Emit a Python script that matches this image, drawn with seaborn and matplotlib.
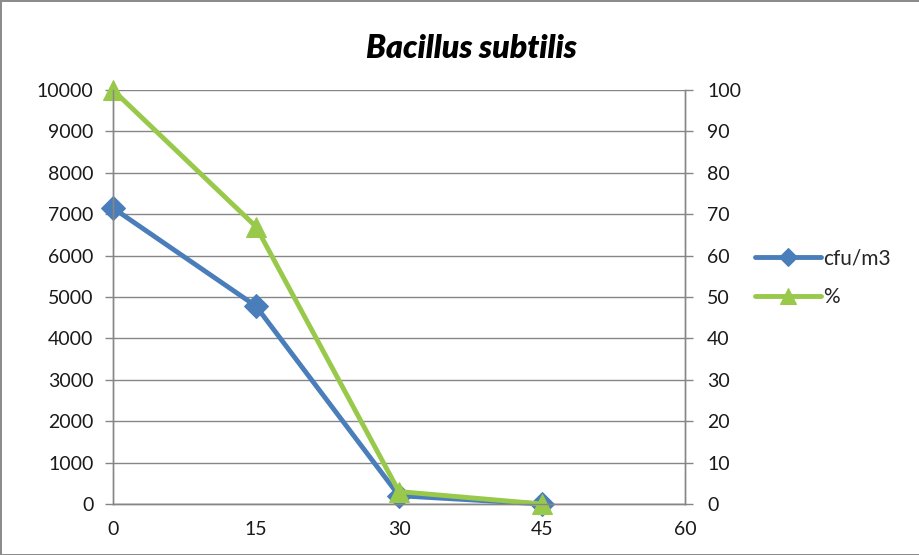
import numpy as np
import matplotlib
matplotlib.use("Agg")
import matplotlib.pyplot as plt
import seaborn as sns

# Data
minutes = [0, 15, 30, 45]
cfu_m3 = [7150, 4780, 200, 0]
percent = [100, 67, 3, 0]

x_ticks = [0, 15, 30, 45, 60]
left_ticks = np.arange(0, 10001, 1000)
right_ticks = np.arange(0, 101, 10)

sns.set_style("white")
plt.rcParams['font.family'] = ['Lato', 'DejaVu Sans']

blue = '#4A7EBB'
green = '#98C94B'
grey = '#868686'

fig = plt.figure(figsize=(9.2, 5.55), dpi=100)
fig.patch.set_edgecolor('#8c8c8c')
fig.patch.set_linewidth(2)
ax = fig.add_axes([0.1228, 0.0919, 0.6218, 0.7459])
ax2 = ax.twinx()

# Horizontal gridlines (Excel style)
ax.set_axisbelow(True)
ax.yaxis.grid(True, color=grey, linewidth=1)
ax.xaxis.grid(False)

sns.lineplot(x=minutes, y=cfu_m3, ax=ax, color=blue, linewidth=3.5,
             marker='D', markersize=12, markeredgecolor=blue, label='cfu/m3',
             legend=False, clip_on=False)
sns.lineplot(x=minutes, y=percent, ax=ax2, color=green, linewidth=3.5,
             marker='^', markersize=15, markeredgecolor=green, label='%',
             legend=False, clip_on=False)

ax.set_xlim(0, 60)
ax.set_ylim(0, 10000)
ax2.set_ylim(0, 100)
ax.set_xticks(x_ticks)
ax.set_yticks(left_ticks)
ax2.set_yticks(right_ticks)

for a in (ax, ax2):
    a.spines['top'].set_visible(False)
    for side in ['left', 'right', 'bottom']:
        a.spines[side].set_color(grey)
        a.spines[side].set_linewidth(1)
    a.tick_params(colors=grey, labelcolor='#1a1a1a', labelsize=14, length=6, width=1, direction='out')

ax.tick_params(axis='y', pad=8)
ax2.tick_params(axis='y', pad=10)
ax.tick_params(axis='x', pad=6)

fig.text(0.512, 0.913, 'Bacillus subtilis', fontsize=23, fontweight='heavy',
         fontstyle='italic', color='black', ha='center', va='center')

# Legend combining both axes
h1, l1 = ax.get_legend_handles_labels()
h2, l2 = ax2.get_legend_handles_labels()
fig.legend(h1 + h2, l1 + l2, loc='center left', bbox_to_anchor=(0.80, 0.50),
           frameon=False, fontsize=15, handlelength=3.2, labelspacing=0.9,
           handletextpad=0.1, markerscale=0.75)

fig.savefig('out.png', dpi=100)
